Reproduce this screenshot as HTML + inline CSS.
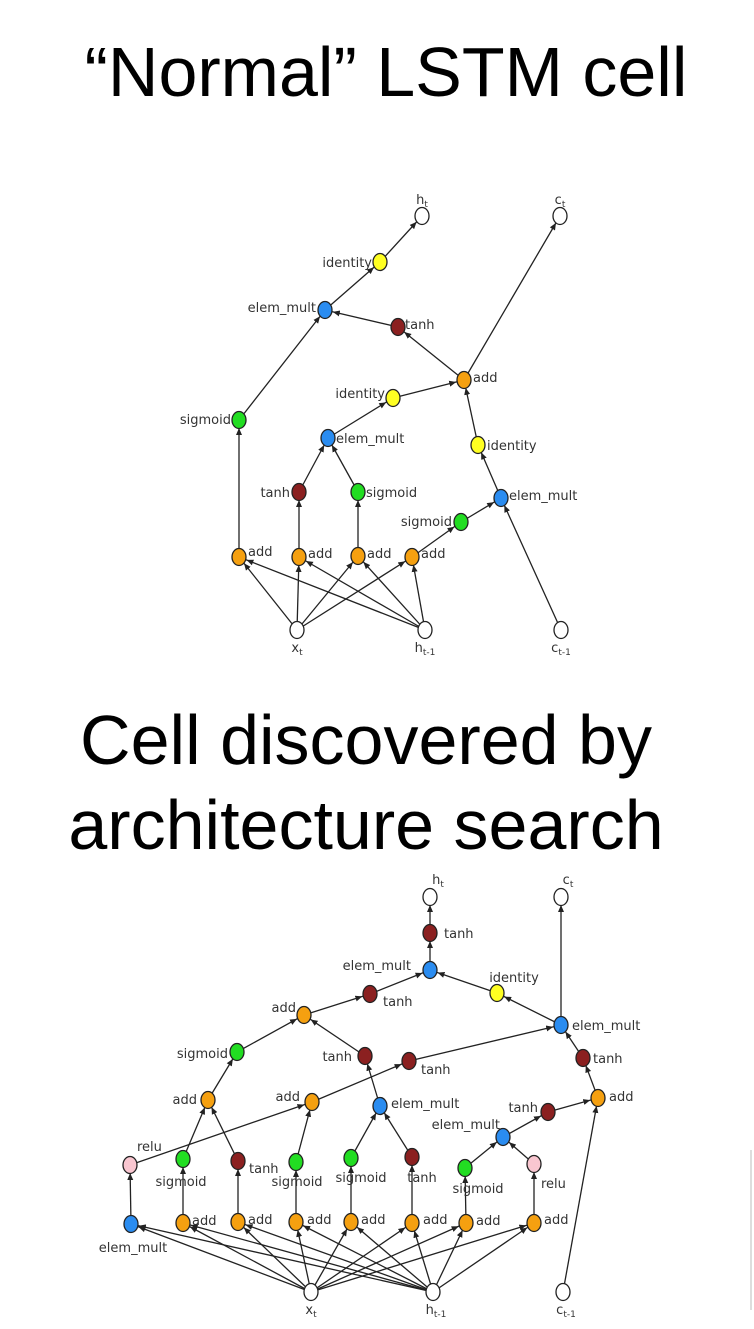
<!DOCTYPE html>
<html><head><meta charset="utf-8"><style>
html,body{margin:0;padding:0;background:#fff;}
svg{display:block;}
.t{font-family:"Liberation Sans",sans-serif;font-size:70px;fill:#000;}
.l{font-family:"DejaVu Sans","Liberation Sans",sans-serif;font-size:13px;fill:#333;}
line{stroke:#222;stroke-width:1.3;marker-end:url(#a);}
ellipse{stroke:#222;stroke-width:1.3;}
.W{fill:#fff}.Y{fill:#ffff22}.B{fill:#2a8cf0}.R{fill:#8b2020}.G{fill:#22dd22}.O{fill:#f5a010}.P{fill:#f9c6d0}
</style></head><body>
<svg width="754" height="1329" viewBox="0 0 754 1329" xmlns="http://www.w3.org/2000/svg">
<defs><marker id="a" markerWidth="24" markerHeight="8" refX="15" refY="4" orient="auto" markerUnits="userSpaceOnUse"><path d="M0,1 L7,4 L0,7 z" fill="#222"/></marker></defs>
<text class="t" x="386" y="96" text-anchor="middle">“Normal” LSTM cell</text>
<text class="t" x="366" y="764" text-anchor="middle">Cell discovered by</text>
<text class="t" x="366" y="849" text-anchor="middle">architecture search</text>

<!-- TOP EDGES -->
<line x1="297" y1="630" x2="239" y2="557"/><line x1="297" y1="630" x2="299" y2="557"/><line x1="297" y1="630" x2="358" y2="556"/><line x1="297" y1="630" x2="412" y2="557"/>
<line x1="425" y1="630" x2="239" y2="557"/><line x1="425" y1="630" x2="299" y2="557"/><line x1="425" y1="630" x2="358" y2="556"/><line x1="425" y1="630" x2="412" y2="557"/>
<line x1="239" y1="557" x2="239" y2="420"/><line x1="239" y1="420" x2="325" y2="310"/><line x1="398" y1="327" x2="325" y2="310"/>
<line x1="325" y1="310" x2="380" y2="262"/><line x1="380" y1="262" x2="422" y2="216"/><line x1="464" y1="380" x2="398" y2="327"/>
<line x1="464" y1="380" x2="560" y2="216"/><line x1="393" y1="398" x2="464" y2="380"/><line x1="328" y1="438" x2="393" y2="398"/>
<line x1="299" y1="492" x2="328" y2="438"/><line x1="358" y1="492" x2="328" y2="438"/><line x1="299" y1="557" x2="299" y2="492"/>
<line x1="358" y1="556" x2="358" y2="492"/><line x1="412" y1="557" x2="461" y2="522"/><line x1="461" y1="522" x2="501" y2="498"/>
<line x1="501" y1="498" x2="478" y2="445"/><line x1="478" y1="445" x2="464" y2="380"/><line x1="561" y1="630" x2="501" y2="498"/>

<!-- TOP NODES -->
<ellipse class="W" cx="422" cy="216" rx="7" ry="8.5"/><ellipse class="W" cx="560" cy="216" rx="7" ry="8.5"/>
<ellipse class="Y" cx="380" cy="262" rx="7" ry="8.5"/><ellipse class="B" cx="325" cy="310" rx="7" ry="8.5"/>
<ellipse class="R" cx="398" cy="327" rx="7" ry="8.5"/><ellipse class="O" cx="464" cy="380" rx="7" ry="8.5"/>
<ellipse class="Y" cx="393" cy="398" rx="7" ry="8.5"/><ellipse class="G" cx="239" cy="420" rx="7" ry="8.5"/>
<ellipse class="B" cx="328" cy="438" rx="7" ry="8.5"/><ellipse class="Y" cx="478" cy="445" rx="7" ry="8.5"/>
<ellipse class="R" cx="299" cy="492" rx="7" ry="8.5"/><ellipse class="G" cx="358" cy="492" rx="7" ry="8.5"/>
<ellipse class="B" cx="501" cy="498" rx="7" ry="8.5"/><ellipse class="G" cx="461" cy="522" rx="7" ry="8.5"/>
<ellipse class="O" cx="239" cy="557" rx="7" ry="8.5"/><ellipse class="O" cx="299" cy="557" rx="7" ry="8.5"/>
<ellipse class="O" cx="358" cy="556" rx="7" ry="8.5"/><ellipse class="O" cx="412" cy="557" rx="7" ry="8.5"/>
<ellipse class="W" cx="297" cy="630" rx="7" ry="8.5"/><ellipse class="W" cx="425" cy="630" rx="7" ry="8.5"/><ellipse class="W" cx="561" cy="630" rx="7" ry="8.5"/>

<!-- TOP LABELS -->
<text class="l" x="422" y="204" text-anchor="middle">h<tspan font-size="9" dy="3">t</tspan></text>
<text class="l" x="560" y="204" text-anchor="middle">c<tspan font-size="9" dy="3">t</tspan></text>
<text class="l" x="372" y="267" text-anchor="end">identity</text>
<text class="l" x="316" y="312" text-anchor="end">elem_mult</text>
<text class="l" x="405" y="329">tanh</text>
<text class="l" x="473" y="382">add</text>
<text class="l" x="385" y="398" text-anchor="end">identity</text>
<text class="l" x="231" y="424" text-anchor="end">sigmoid</text>
<text class="l" x="336" y="443">elem_mult</text>
<text class="l" x="487" y="450">identity</text>
<text class="l" x="290" y="497" text-anchor="end">tanh</text>
<text class="l" x="366" y="497">sigmoid</text>
<text class="l" x="509" y="500">elem_mult</text>
<text class="l" x="452" y="526" text-anchor="end">sigmoid</text>
<text class="l" x="248" y="556">add</text><text class="l" x="308" y="558">add</text><text class="l" x="367" y="558">add</text><text class="l" x="421" y="558">add</text>
<text class="l" x="297" y="652" text-anchor="middle">x<tspan font-size="9" dy="3">t</tspan></text>
<text class="l" x="425" y="652" text-anchor="middle">h<tspan font-size="9" dy="3">t-1</tspan></text>
<text class="l" x="561" y="652" text-anchor="middle">c<tspan font-size="9" dy="3">t-1</tspan></text>

<!-- BOTTOM EDGES -->
<line x1="430" y1="933" x2="430" y2="897"/><line x1="430" y1="970" x2="430" y2="933"/>
<line x1="370" y1="994" x2="430" y2="970"/><line x1="304" y1="1015" x2="370" y2="994"/>
<line x1="497" y1="993" x2="430" y2="970"/><line x1="561" y1="1025" x2="497" y2="993"/><line x1="561" y1="1025" x2="561" y2="897"/>
<line x1="237" y1="1052" x2="304" y2="1015"/><line x1="208" y1="1100" x2="237" y2="1052"/>
<line x1="183" y1="1159" x2="208" y2="1100"/><line x1="238" y1="1161" x2="208" y2="1100"/>
<line x1="365" y1="1056" x2="304" y2="1015"/><line x1="380" y1="1106" x2="365" y2="1056"/>
<line x1="351" y1="1158" x2="380" y2="1106"/><line x1="412" y1="1157" x2="380" y2="1106"/>
<line x1="409" y1="1061" x2="561" y2="1025"/><line x1="312" y1="1102" x2="409" y2="1061"/>
<line x1="130" y1="1165" x2="312" y2="1102"/><line x1="296" y1="1162" x2="312" y2="1102"/>
<line x1="583" y1="1058" x2="561" y2="1025"/><line x1="598" y1="1098" x2="583" y2="1058"/>
<line x1="548" y1="1112" x2="598" y2="1098"/><line x1="503" y1="1137" x2="548" y2="1112"/>
<line x1="465" y1="1168" x2="503" y2="1137"/><line x1="534" y1="1164" x2="503" y2="1137"/>
<line x1="563" y1="1292" x2="598" y2="1098"/>
<line x1="131" y1="1224" x2="130" y2="1165"/><line x1="183" y1="1223" x2="183" y2="1159"/><line x1="238" y1="1222" x2="238" y2="1161"/>
<line x1="296" y1="1222" x2="296" y2="1162"/><line x1="351" y1="1222" x2="351" y2="1158"/><line x1="412" y1="1223" x2="412" y2="1157"/>
<line x1="466" y1="1223" x2="465" y2="1168"/><line x1="534" y1="1223" x2="534" y2="1164"/>
<line x1="311" y1="1292" x2="131" y2="1224"/><line x1="311" y1="1292" x2="183" y2="1223"/><line x1="311" y1="1292" x2="238" y2="1222"/><line x1="311" y1="1292" x2="296" y2="1222"/>
<line x1="311" y1="1292" x2="351" y2="1222"/><line x1="311" y1="1292" x2="412" y2="1223"/><line x1="311" y1="1292" x2="466" y2="1223"/><line x1="311" y1="1292" x2="534" y2="1223"/>
<line x1="433" y1="1292" x2="131" y2="1224"/><line x1="433" y1="1292" x2="183" y2="1223"/><line x1="433" y1="1292" x2="238" y2="1222"/><line x1="433" y1="1292" x2="296" y2="1222"/>
<line x1="433" y1="1292" x2="351" y2="1222"/><line x1="433" y1="1292" x2="412" y2="1223"/><line x1="433" y1="1292" x2="466" y2="1223"/><line x1="433" y1="1292" x2="534" y2="1223"/>

<!-- BOTTOM NODES -->
<ellipse class="W" cx="430" cy="897" rx="7" ry="8.5"/><ellipse class="W" cx="561" cy="897" rx="7" ry="8.5"/>
<ellipse class="R" cx="430" cy="933" rx="7" ry="8.5"/><ellipse class="B" cx="430" cy="970" rx="7" ry="8.5"/>
<ellipse class="Y" cx="497" cy="993" rx="7" ry="8.5"/><ellipse class="R" cx="370" cy="994" rx="7" ry="8.5"/>
<ellipse class="O" cx="304" cy="1015" rx="7" ry="8.5"/><ellipse class="B" cx="561" cy="1025" rx="7" ry="8.5"/>
<ellipse class="G" cx="237" cy="1052" rx="7" ry="8.5"/><ellipse class="R" cx="365" cy="1056" rx="7" ry="8.5"/>
<ellipse class="R" cx="409" cy="1061" rx="7" ry="8.5"/><ellipse class="R" cx="583" cy="1058" rx="7" ry="8.5"/>
<ellipse class="O" cx="208" cy="1100" rx="7" ry="8.5"/><ellipse class="O" cx="312" cy="1102" rx="7" ry="8.5"/>
<ellipse class="B" cx="380" cy="1106" rx="7" ry="8.5"/><ellipse class="O" cx="598" cy="1098" rx="7" ry="8.5"/>
<ellipse class="R" cx="548" cy="1112" rx="7" ry="8.5"/><ellipse class="B" cx="503" cy="1137" rx="7" ry="8.5"/>
<ellipse class="P" cx="130" cy="1165" rx="7" ry="8.5"/><ellipse class="G" cx="183" cy="1159" rx="7" ry="8.5"/>
<ellipse class="R" cx="238" cy="1161" rx="7" ry="8.5"/><ellipse class="G" cx="296" cy="1162" rx="7" ry="8.5"/>
<ellipse class="G" cx="351" cy="1158" rx="7" ry="8.5"/><ellipse class="R" cx="412" cy="1157" rx="7" ry="8.5"/>
<ellipse class="G" cx="465" cy="1168" rx="7" ry="8.5"/><ellipse class="P" cx="534" cy="1164" rx="7" ry="8.5"/>
<ellipse class="B" cx="131" cy="1224" rx="7" ry="8.5"/><ellipse class="O" cx="183" cy="1223" rx="7" ry="8.5"/>
<ellipse class="O" cx="238" cy="1222" rx="7" ry="8.5"/><ellipse class="O" cx="296" cy="1222" rx="7" ry="8.5"/>
<ellipse class="O" cx="351" cy="1222" rx="7" ry="8.5"/><ellipse class="O" cx="412" cy="1223" rx="7" ry="8.5"/>
<ellipse class="O" cx="466" cy="1223" rx="7" ry="8.5"/><ellipse class="O" cx="534" cy="1223" rx="7" ry="8.5"/>
<ellipse class="W" cx="311" cy="1292" rx="7" ry="8.5"/><ellipse class="W" cx="433" cy="1292" rx="7" ry="8.5"/><ellipse class="W" cx="563" cy="1292" rx="7" ry="8.5"/>

<!-- BOTTOM LABELS -->
<text class="l" x="438" y="884" text-anchor="middle">h<tspan font-size="9" dy="3">t</tspan></text>
<text class="l" x="568" y="884" text-anchor="middle">c<tspan font-size="9" dy="3">t</tspan></text>
<text class="l" x="444" y="938">tanh</text>
<text class="l" x="411" y="970" text-anchor="end">elem_mult</text>
<text class="l" x="514" y="982" text-anchor="middle">identity</text>
<text class="l" x="383" y="1006">tanh</text>
<text class="l" x="296" y="1012" text-anchor="end">add</text>
<text class="l" x="572" y="1030">elem_mult</text>
<text class="l" x="228" y="1058" text-anchor="end">sigmoid</text>
<text class="l" x="352" y="1061" text-anchor="end">tanh</text>
<text class="l" x="421" y="1074">tanh</text>
<text class="l" x="593" y="1063">tanh</text>
<text class="l" x="197" y="1104" text-anchor="end">add</text>
<text class="l" x="300" y="1101" text-anchor="end">add</text>
<text class="l" x="391" y="1108">elem_mult</text>
<text class="l" x="609" y="1101">add</text>
<text class="l" x="538" y="1112" text-anchor="end">tanh</text>
<text class="l" x="500" y="1129" text-anchor="end">elem_mult</text>
<text class="l" x="137" y="1151">relu</text>
<text class="l" x="181" y="1186" text-anchor="middle">sigmoid</text>
<text class="l" x="249" y="1173">tanh</text>
<text class="l" x="297" y="1186" text-anchor="middle">sigmoid</text>
<text class="l" x="361" y="1182" text-anchor="middle">sigmoid</text>
<text class="l" x="422" y="1182" text-anchor="middle">tanh</text>
<text class="l" x="478" y="1193" text-anchor="middle">sigmoid</text>
<text class="l" x="541" y="1188">relu</text>
<text class="l" x="133" y="1252" text-anchor="middle">elem_mult</text>
<text class="l" x="192" y="1225">add</text><text class="l" x="248" y="1224">add</text><text class="l" x="307" y="1224">add</text><text class="l" x="361" y="1224">add</text>
<text class="l" x="423" y="1224">add</text><text class="l" x="476" y="1225">add</text><text class="l" x="544" y="1224">add</text>
<text class="l" x="311" y="1314" text-anchor="middle">x<tspan font-size="9" dy="3">t</tspan></text>
<text class="l" x="436" y="1314" text-anchor="middle">h<tspan font-size="9" dy="3">t-1</tspan></text>
<text class="l" x="566" y="1314" text-anchor="middle">c<tspan font-size="9" dy="3">t-1</tspan></text>

<rect x="750" y="1150" width="2" height="160" fill="#ddd"/>
</svg>
</body></html>
